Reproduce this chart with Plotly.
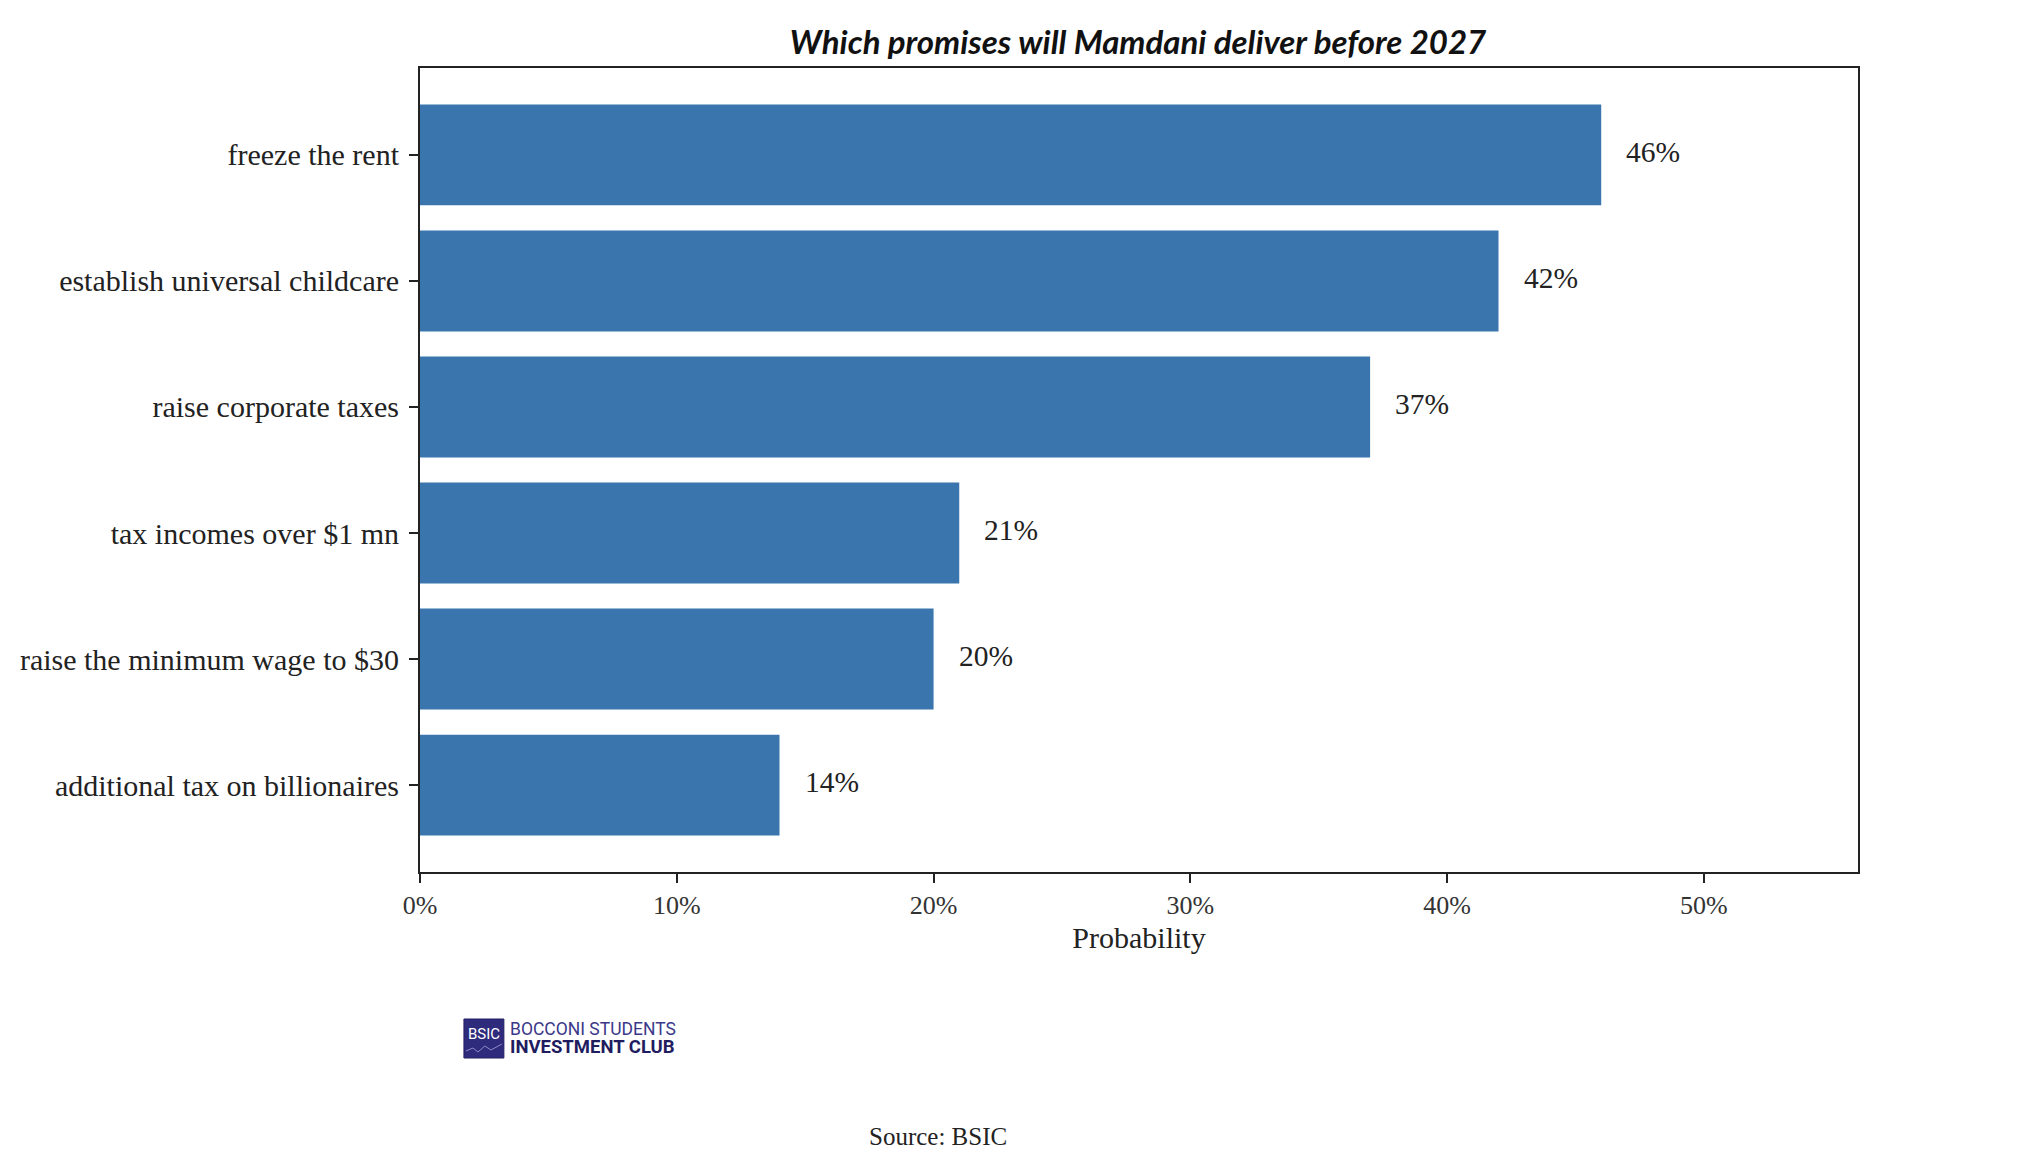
import plotly.graph_objects as go

categories = ["freeze the rent", "establish universal childcare", "raise corporate taxes",
              "tax incomes over $1 mn", "raise the minimum wage to $30", "additional tax on billionaires"]
probabilities = [46, 42, 37, 21, 20, 14]
value_labels = ["46%", "42%", "37%", "21%", "20%", "14%"]
x_ticks = [0, 10, 20, 30, 40, 50]
x_tick_labels = ["0%", "10%", "20%", "30%", "40%", "50%"]

BAR = "#3a75ae"
SERIF = "Liberation Serif, Times New Roman, serif"

# figure is placed at an 8px body margin inside the 2040x1176 window
W, H = 2024, 1160
L, R, T, B = 410, 1850, 60, 864  # plot area in figure pixels


def px(x):
    return (x - L) / (R - L)


def py(y):
    return (B - y) / (B - T)


fig = go.Figure()
fig.add_trace(go.Bar(
    y=categories, x=probabilities, orientation="h",
    marker=dict(color=BAR, line=dict(width=0)),
    width=0.8, hoverinfo="skip",
))

for c, v, t in zip(categories, probabilities, value_labels):
    fig.add_annotation(x=v, y=c, text=t, showarrow=False, xanchor="left",
                       xshift=23, yshift=3, font=dict(family=SERIF, size=29.5, color="#222"))

fig.update_layout(
    width=W, height=H,
    margin=dict(l=L, r=W - R, t=T, b=H - B),
    paper_bgcolor="white", plot_bgcolor="white",
    showlegend=False, bargap=0.2,
    title=dict(text="<b><i>Which promises will Mamdani deliver before 2027</i></b>",
               x=(L + R) / 2 / W, xanchor="center", y=1 - 34 / H, yanchor="middle",
               font=dict(family="Lato, Open Sans, sans-serif", size=33, color="#111")),
    xaxis=dict(range=[0, 56], tickvals=x_ticks, ticktext=x_tick_labels,
               showgrid=False, zeroline=False, showline=True, linecolor="#222", linewidth=2,
               mirror=True, ticks="outside", ticklen=9, tickwidth=2, tickcolor="#222",
               tickfont=dict(family=SERIF, size=26, color="#333"),
               title=dict(text="Probability", font=dict(family=SERIF, size=30, color="#222"), standoff=8)),
    yaxis=dict(categoryorder="array", categoryarray=categories[::-1],
               range=[-0.69, 5.69],
               showgrid=False, zeroline=False, showline=True, linecolor="#222", linewidth=2,
               mirror=True, ticks="outside", ticklen=9, tickwidth=2, tickcolor="#222",
               tickfont=dict(family=SERIF, size=30, color="#222"), ticklabelstandoff=4),
)

# Logo
fig.add_shape(type="rect", xref="paper", yref="paper",
              x0=px(454), x1=px(494), y0=py(1050), y1=py(1011),
              fillcolor="#2e2a7c", line=dict(color="#241f66", width=1))
fig.add_shape(type="path", xref="paper", yref="paper",
              path=f"M {px(456)},{py(1043)} L {px(463)},{py(1040)} L {px(468)},{py(1044)} "
                   f"L {px(475)},{py(1038)} L {px(481)},{py(1042)} L {px(492)},{py(1036)}",
              line=dict(color="#8e8cc8", width=1))
fig.add_annotation(xref="paper", yref="paper", x=px(474), y=py(1026),
                   text="BSIC", showarrow=False, xanchor="center", yanchor="middle",
                   font=dict(family="Roboto, sans-serif", size=15, color="white"))
fig.add_annotation(xref="paper", yref="paper", x=px(498), y=py(1021),
                   xanchor="left", yanchor="middle", align="left",
                   text="BOCCONI STUDENTS", showarrow=False,
                   font=dict(family="Roboto, sans-serif", size=17.5, color="#3b3889"))
fig.add_annotation(xref="paper", yref="paper", x=px(498), y=py(1039),
                   xanchor="left", yanchor="middle", align="left",
                   text="<b>INVESTMENT CLUB</b>", showarrow=False,
                   font=dict(family="Roboto, sans-serif", size=18.5, color="#1f1c5f"))

fig.add_annotation(xref="paper", yref="paper", x=px(929), y=py(1128),
                   text="Source: BSIC", showarrow=False, xanchor="center", yanchor="middle",
                   font=dict(family=SERIF, size=25, color="#222"))

fig.write_html("out.html")
